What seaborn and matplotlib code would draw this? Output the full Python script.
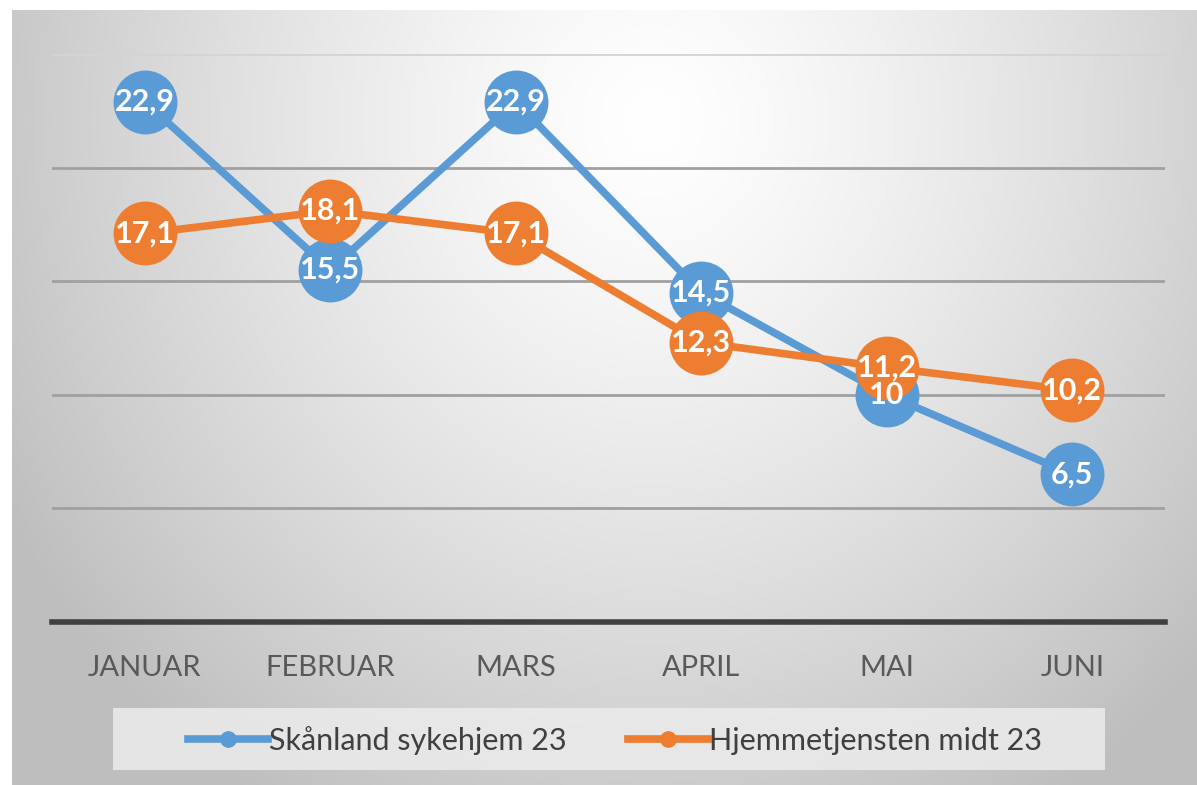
import numpy as np
import pandas as pd
import matplotlib
matplotlib.use('Agg')
import matplotlib.pyplot as plt
from matplotlib.lines import Line2D
from matplotlib.patches import Rectangle
import seaborn as sns

months = ['JANUAR', 'FEBRUAR', 'MARS', 'APRIL', 'MAI', 'JUNI']
skanland = [22.9, 15.5, 22.9, 14.5, 10.0, 6.5]
hjemme = [17.1, 18.1, 17.1, 12.3, 11.2, 10.2]
series_names = ['Skånland sykehjem 23', 'Hjemmetjensten midt 23']
grid_values = [5, 10, 15, 20, 25]

colors = ['#5B9BD5', '#ED7D31']

plt.rcParams['font.family'] = ['Lato', 'DejaVu Sans']

df = pd.DataFrame({
    'month': months * 2,
    'value': skanland + hjemme,
    'series': [series_names[0]] * len(months) + [series_names[1]] * len(months),
})

fig = plt.figure(figsize=(11.97, 7.85), dpi=100)
fig.patch.set_facecolor('white')

# radial grey gradient background
bg = fig.add_axes([12 / 1197, 0, 1 - 12 / 1197, 1 - 10 / 785], zorder=-5)
w, h = 1185, 775
xx, yy = np.meshgrid(np.arange(w), np.arange(h))
r = np.sqrt(((xx - 640) / 700) ** 2 + ((yy - 110) / 760) ** 2)
val = np.clip(255 - 60 * r ** 1.3, 190, 255) / 255
bg.imshow(np.dstack([val, val, val]), aspect='auto', interpolation='bilinear')
bg.axis('off')

ax = fig.add_axes([52 / 1197, 163 / 785, 1113 / 1197, 568 / 785])
ax.set_facecolor('none')

sns.lineplot(data=df, x='month', y='value', hue='series', palette=colors,
             marker='o', markersize=46, markeredgewidth=0, lw=5.5,
             legend=False, ax=ax, zorder=5)

for vals in (skanland, hjemme):
    for i, v in enumerate(vals):
        ax.text(i, v, f'{v:g}'.replace('.', ','), ha='center', va='center',
                color='white', fontweight='bold', fontsize=22, zorder=10)

ax.set_xlim(-0.5, 5.5)
ax.set_ylim(0, 25)
ax.set_yticks(grid_values)
ax.yaxis.grid(True, color='#a0a0a0', lw=2)
ax.get_ygridlines()[-1].set_color('#d4d4d4')
ax.set_axisbelow(True)
ax.axhline(0, color='#404040', lw=4, clip_on=False, zorder=3)
for s in ax.spines.values():
    s.set_visible(False)
ax.tick_params(left=False, labelleft=False, bottom=False, labelsize=21,
               labelcolor='#595959', pad=20)
ax.set_xlabel('')
ax.set_ylabel('')

# legend
fig.patches.append(Rectangle((113 / 1197, 15 / 785), 992 / 1197, 62 / 785,
                             transform=fig.transFigure, facecolor='#ececec',
                             alpha=0.85, edgecolor='none', zorder=-1))
handles = [Line2D([], [], color=c, lw=5.5, marker='o', markersize=11) for c in colors]
fig.legend(handles, series_names, loc='center', bbox_to_anchor=(0.514, 0.0565),
           ncol=2, frameon=False, fontsize=22, handlelength=2.6,
           handletextpad=0.05, columnspacing=2.0, labelcolor='#404040')

fig.savefig('out.png', dpi=100)
